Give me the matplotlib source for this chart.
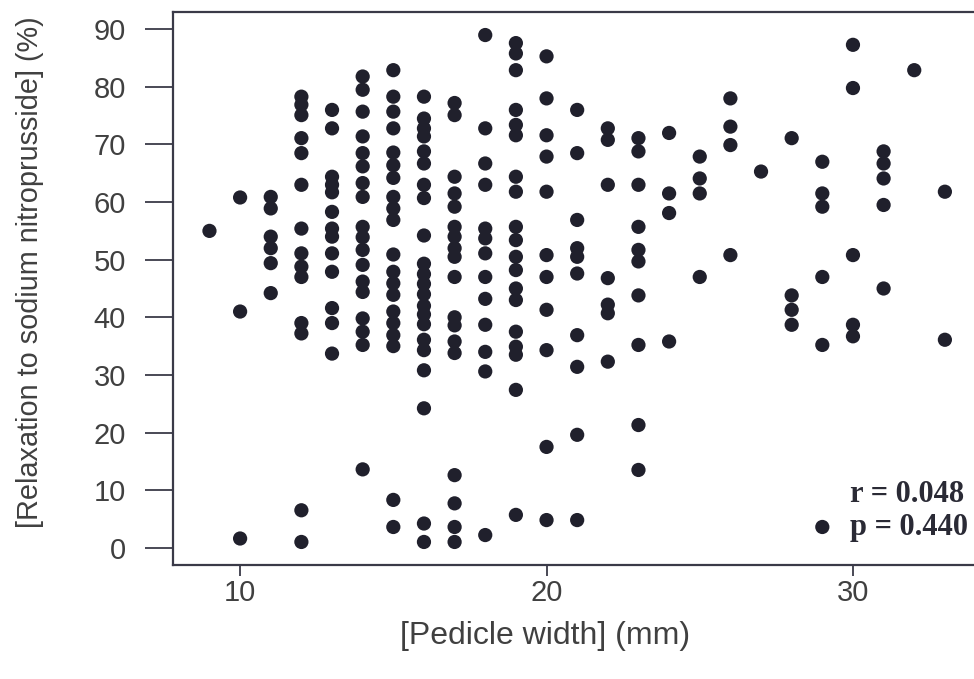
import matplotlib
matplotlib.use("Agg")
import matplotlib.pyplot as plt
from matplotlib import font_manager

# ---- data ----
widths = [9, 10, 11, 12, 13, 14, 15, 16, 17, 18, 19, 20, 21, 22, 23,
          24, 25, 26, 27, 28, 29, 30, 31, 32, 33]
relaxation = [
    [55.0],
    [60.8, 41.0, 1.6],
    [60.9, 58.9, 54.0, 52.0, 49.4, 44.2],
    [78.3, 76.9, 75.1, 71.1, 68.5, 63.0, 55.4, 51.1, 48.8, 47.0, 39.0, 37.2, 6.5, 1.0],
    [76.0, 72.8, 64.4, 63.0, 61.7, 58.3, 55.4, 54.0, 51.1, 47.9, 41.6, 39.0, 33.7],
    [81.8, 79.5, 75.7, 71.4, 68.5, 66.2, 63.3, 60.9, 55.7, 53.9, 51.7, 49.1, 46.2,
     44.4, 39.8, 37.5, 35.2, 13.6],
    [82.9, 78.3, 75.7, 72.8, 68.6, 66.4, 64.2, 60.9, 58.9, 56.9, 50.9, 47.9, 45.9,
     43.9, 41.0, 39.0, 36.9, 35.0, 8.3, 3.6],
    [78.3, 74.5, 72.8, 71.4, 68.8, 66.7, 63.0, 60.7, 54.2, 49.3, 47.5, 45.8, 44.0,
     42.0, 40.5, 38.8, 36.1, 34.3, 30.8, 24.2, 4.2, 1.0],
    [77.2, 75.1, 64.4, 61.5, 59.2, 55.7, 54.0, 52.0, 50.5, 47.0, 40.0, 38.6, 35.8,
     33.8, 12.6, 7.7, 3.6, 1.0],
    [89.0, 72.8, 66.7, 63.0, 55.4, 53.7, 51.1, 47.0, 43.2, 38.7, 34.0, 30.6, 2.2],
    [87.6, 85.8, 82.9, 76.0, 73.4, 71.6, 64.4, 61.8, 55.7, 53.4, 50.5, 48.2, 45.0,
     43.0, 37.5, 34.9, 33.5, 27.4, 5.7],
    [85.3, 78.0, 71.6, 67.9, 61.8, 50.8, 47.0, 41.3, 34.3, 17.5, 4.8],
    [76.0, 68.5, 56.9, 52.0, 50.5, 47.6, 36.9, 31.4, 19.6, 4.8],
    [72.8, 70.8, 63.0, 46.8, 42.2, 40.7, 32.3],
    [71.1, 68.8, 63.0, 55.7, 51.7, 49.7, 43.8, 35.2, 21.3, 13.5],
    [72.0, 61.5, 58.1, 35.8],
    [67.9, 64.1, 61.5, 47.0],
    [78.0, 73.1, 69.9, 50.8],
    [65.3],
    [71.1, 43.8, 41.3, 38.7],
    [67.0, 61.5, 59.2, 47.0, 35.2, 3.6],
    [87.3, 79.8, 50.8, 38.7, 36.7],
    [68.8, 66.7, 64.1, 59.5, 45.0],
    [82.9],
    [61.8, 36.1],
]
x_ticks = [10, 20, 30]
y_ticks = [0, 10, 20, 30, 40, 50, 60, 70, 80, 90]
x_label = "[Pedicle width] (mm)"
y_label = "[Relaxation to sodium nitroprusside] (%)"
stat_r = "r = 0.048"
stat_p = "p = 0.440"

xs, ys = [], []
for w, vals in zip(widths, relaxation):
    xs.extend([w] * len(vals))
    ys.extend(vals)

installed = {f.name for f in font_manager.fontManager.ttflist}
if "Liberation Sans Narrow" in installed:
    sans = "Liberation Sans Narrow"
    tick_fs, lab_fs_x, lab_fs_y = 24, 27, 24
else:
    sans = "Liberation Sans"
    tick_fs, lab_fs_x, lab_fs_y = 21, 23, 20.8

W, H = 974, 679
fig = plt.figure(figsize=(W / 100, H / 100), dpi=100)
left_px, right_px, top_px, bot_px = 173.3, 974.0, 11.7, 565.0
ax = fig.add_axes([left_px / W, (H - bot_px) / H,
                   (right_px - left_px) / W, (bot_px - top_px) / H])

dot = "#20202c"
ax.scatter(xs, ys, s=105, color=dot, edgecolors="none", zorder=3)

ax.set_xlim(7.82, 33.95)
ax.set_ylim(-3.0, 93.05)
ax.set_xticks(x_ticks)
ax.set_yticks(y_ticks)

spine_c = "#3a3a48"
for side in ["left", "bottom", "top"]:
    ax.spines[side].set_color(spine_c)
    ax.spines[side].set_linewidth(1.6)
ax.spines["right"].set_visible(False)

lab_c = "#404040"
ax.tick_params(axis="y", length=20, width=1.3, color=spine_c, pad=14,
               labelsize=tick_fs, labelcolor=lab_c)
ax.tick_params(axis="x", length=8, width=1.3, color=spine_c, pad=2,
               labelsize=tick_fs, labelcolor=lab_c)
for t in ax.get_xticklabels() + ax.get_yticklabels():
    t.set_fontfamily(sans)

fig.text(545 / W, 1 - 636 / H, x_label, ha="center", va="center",
         fontsize=lab_fs_x, color=lab_c, family=sans)
fig.text(30 / W, 1 - 272 / H, y_label, ha="center", va="center",
         rotation=90, fontsize=lab_fs_y, color=lab_c, family=sans)

fig.text(850 / W, 1 - 495 / H, stat_r, ha="left", va="center",
         fontsize=22, fontweight="bold", color="#2a2a35",
         family="Liberation Serif")
fig.text(850 / W, 1 - 527 / H, stat_p, ha="left", va="center",
         fontsize=22, fontweight="bold", color="#2a2a35",
         family="Liberation Serif")

fig.savefig("out.png", dpi=100, facecolor="white")
